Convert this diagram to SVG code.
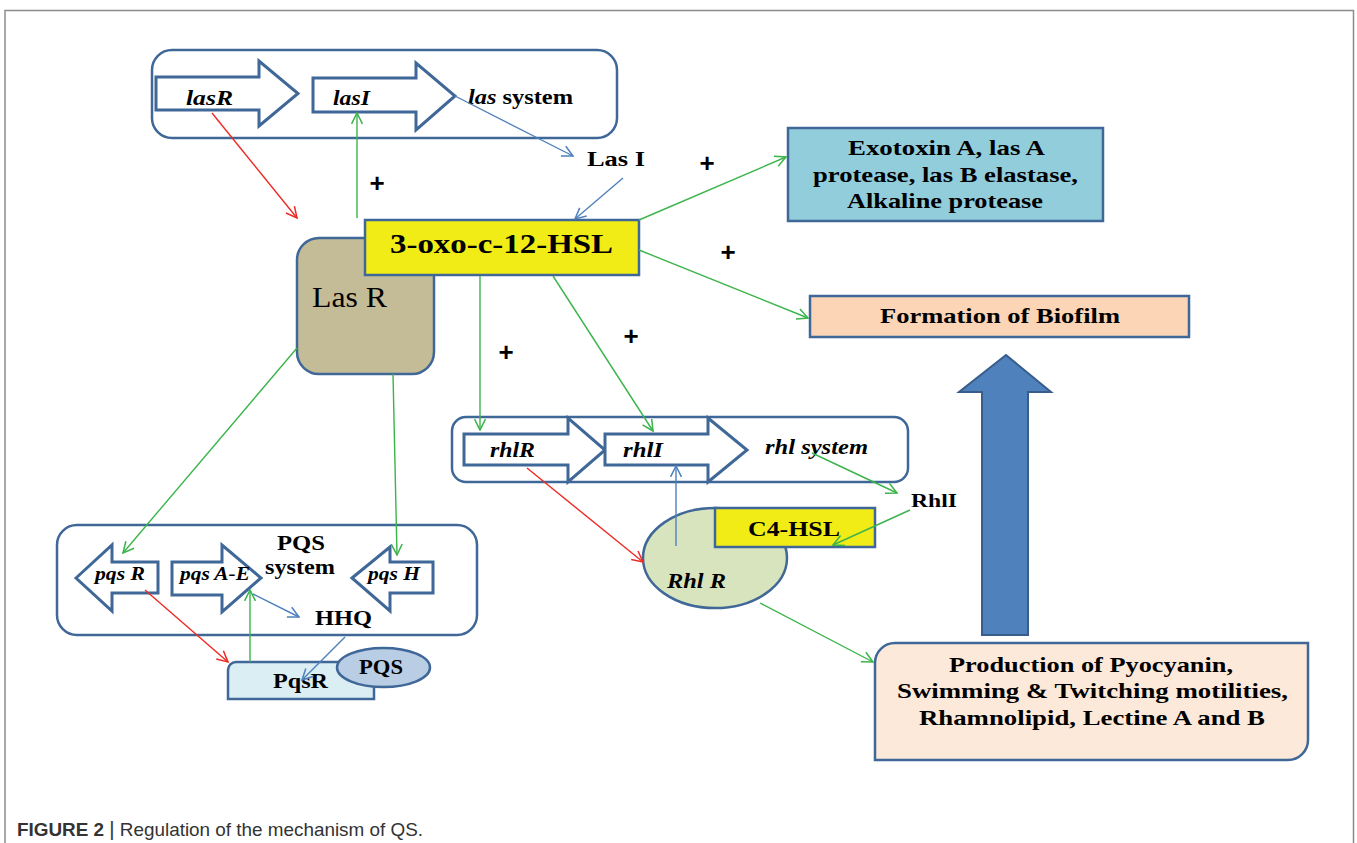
<svg xmlns="http://www.w3.org/2000/svg" width="1357" height="843" viewBox="0 0 1357 843">
<defs>
<marker id="mg" viewBox="0 0 12 12" refX="11" refY="6" markerWidth="13" markerHeight="13" markerUnits="userSpaceOnUse" orient="auto"><path d="M1,1 L11,6 L1,11" fill="none" stroke="#3cb44b" stroke-width="1.4"/></marker>
<marker id="mr" viewBox="0 0 12 12" refX="11" refY="6" markerWidth="13" markerHeight="13" markerUnits="userSpaceOnUse" orient="auto"><path d="M1,1 L11,6 L1,11" fill="none" stroke="#ee2a24" stroke-width="1.4"/></marker>
<marker id="mb" viewBox="0 0 12 12" refX="11" refY="6" markerWidth="13" markerHeight="13" markerUnits="userSpaceOnUse" orient="auto"><path d="M1,1 L11,6 L1,11" fill="none" stroke="#4f81bd" stroke-width="1.4"/></marker>
</defs>
<style>
.frame{fill:none;stroke:#8c8c8c;stroke-width:1.5}
.sys{fill:#fff;stroke:#3f6797;stroke-width:2.5}
.blk{fill:#fff;stroke:#3f6797;stroke-width:3;stroke-linejoin:miter}
.t{font-family:"Liberation Serif","Times New Roman",serif;font-weight:bold;fill:#000}
.i{font-style:italic}
.g{stroke:#3cb44b;stroke-width:1.4;fill:none;marker-end:url(#mg)}
.r{stroke:#ee2a24;stroke-width:1.4;fill:none;marker-end:url(#mr)}
.b{stroke:#4f81bd;stroke-width:1.4;fill:none;marker-end:url(#mb)}
.plus{font-family:"Liberation Sans",Arial,sans-serif;font-weight:bold;font-size:26px;fill:#000;text-anchor:middle}
.cap{font-family:"Liberation Sans",Arial,sans-serif;font-size:18.5px;fill:#333}
</style>
<rect width="1357" height="843" fill="#fff"/>
<path class="frame" d="M5,843 V10.5 H1353.5 V843"/>

<g id="las-system">
<rect class="sys" x="152" y="50" width="465" height="88" rx="20"/>
<polygon class="blk" points="156,77 259,77 259,61 298,93.5 259,126 259,110 156,110"/>
<polygon class="blk" points="313,78 416,78 416,63 455,96 416,130 416,112 313,112"/>
<text class="t i" x="186" y="105" font-size="22" textLength="47" lengthAdjust="spacingAndGlyphs">lasR</text>
<text class="t i" x="333" y="105" font-size="22" textLength="37" lengthAdjust="spacingAndGlyphs">lasI</text>
<text class="t" x="468" y="104" font-size="22" textLength="105" lengthAdjust="spacingAndGlyphs"><tspan font-style="italic">las</tspan> system</text>
</g>

<g id="lasI-label"><text class="t" x="587" y="166" font-size="20" textLength="58" lengthAdjust="spacingAndGlyphs">Las I</text></g>

<g id="lasR-protein">
<rect x="297" y="238" width="137" height="136" rx="22" fill="#c4bc96" stroke="#3f6797" stroke-width="2.5"/>
<text x="312" y="307" font-family="Liberation Serif,'Times New Roman',serif" font-size="29" textLength="75" lengthAdjust="spacingAndGlyphs" fill="#000">Las R</text>
</g>

<g id="oxo-hsl">
<rect x="365" y="220" width="274" height="55" fill="#f2ec16" stroke="#3f6797" stroke-width="2.5"/>
<text class="t" x="390" y="253" font-size="27" textLength="223" lengthAdjust="spacingAndGlyphs">3-oxo-c-12-HSL</text>
</g>

<g id="exotoxin">
<rect x="788" y="128" width="315" height="93" fill="#92cddc" stroke="#3f6797" stroke-width="2.5"/>
<text class="t" x="848" y="155" font-size="22" textLength="197" lengthAdjust="spacingAndGlyphs">Exotoxin A, las A</text>
<text class="t" x="813" y="182" font-size="22" textLength="265" lengthAdjust="spacingAndGlyphs">protease,  las B elastase,</text>
<text class="t" x="847" y="208" font-size="22" textLength="196" lengthAdjust="spacingAndGlyphs">Alkaline  protease</text>
</g>

<g id="biofilm">
<rect x="810" y="296" width="379" height="41" fill="#fbd5b5" stroke="#3f6797" stroke-width="2.5"/>
<text class="t" x="880" y="323" font-size="22" textLength="240" lengthAdjust="spacingAndGlyphs">Formation  of Biofilm</text>
</g>

<g id="big-arrow">
<polygon points="982,635 1028,635 1028,392 1051,392 1006,355 959,392 982,392" fill="#4f81bd" stroke="#385d8a" stroke-width="2"/>
</g>

<g id="rhl-system">
<rect class="sys" x="452" y="417" width="456" height="65" rx="14"/>
<polygon class="blk" points="464,434 568,434 568,418 605,450 568,482 568,465 464,465"/>
<polygon class="blk" points="605,434 708,434 708,418 747,450 708,482 708,465 605,465"/>
<text class="t i" x="490" y="457" font-size="21" textLength="45" lengthAdjust="spacingAndGlyphs">rhlR</text>
<text class="t i" x="623" y="457" font-size="21" textLength="40" lengthAdjust="spacingAndGlyphs">rhlI</text>
<text class="t i" x="765" y="454" font-size="21" textLength="103" lengthAdjust="spacingAndGlyphs">rhl system</text>
</g>

<g id="rhlI-label"><text class="t" x="911" y="507" font-size="19" textLength="46" lengthAdjust="spacingAndGlyphs">RhlI</text></g>

<g id="rhlR-protein">
<ellipse cx="715" cy="558" rx="72" ry="50" fill="#d7e4bd" stroke="#3f6797" stroke-width="2.5"/>
<text class="t i" x="667" y="588" font-size="21" textLength="59" lengthAdjust="spacingAndGlyphs">Rhl R</text>
</g>

<g id="c4-hsl">
<rect x="715" y="508" width="160" height="39" fill="#f2ec16" stroke="#3f6797" stroke-width="2.5"/>
<text class="t" x="748" y="536" font-size="21" textLength="92" lengthAdjust="spacingAndGlyphs">C4-HSL</text>
</g>

<g id="production">
<path d="M895,643 H1308 V740 A20,20 0 0 1 1288,760 H875 V663 A20,20 0 0 1 895,643 Z" fill="#fde9d9" stroke="#3f6797" stroke-width="2.5"/>
<text class="t" x="949" y="672" font-size="22" textLength="284" lengthAdjust="spacingAndGlyphs">Production  of Pyocyanin,</text>
<text class="t" x="897" y="698" font-size="22" textLength="391" lengthAdjust="spacingAndGlyphs">Swimming  &amp; Twitching  motilities,</text>
<text class="t" x="919" y="725" font-size="22" textLength="346" lengthAdjust="spacingAndGlyphs">Rhamnolipid,  Lectine A and  B</text>
</g>

<g id="pqs-system">
<rect class="sys" x="57" y="525" width="420" height="110" rx="20"/>
<polygon class="blk" points="76,578 112,545 112,562 158,562 158,593 112,593 112,611"/>
<polygon class="blk" points="172,562 222,562 222,545 261,578 222,612 222,595 172,595"/>
<polygon class="blk" points="352,578 390,547 390,562 433,562 433,593 390,593 390,611"/>
<text class="t i" x="95" y="580" font-size="19" textLength="50" lengthAdjust="spacingAndGlyphs">pqs R</text>
<text class="t i" x="180" y="580" font-size="19" textLength="70" lengthAdjust="spacingAndGlyphs">pqs A-E</text>
<text class="t i" x="368" y="580" font-size="19" textLength="52" lengthAdjust="spacingAndGlyphs">pqs H</text>
<text class="t" x="277" y="550" font-size="21" textLength="48" lengthAdjust="spacingAndGlyphs">PQS</text>
<text class="t" x="265" y="574" font-size="21" textLength="70" lengthAdjust="spacingAndGlyphs">system</text>
<text class="t" x="315" y="625" font-size="21" textLength="57" lengthAdjust="spacingAndGlyphs">HHQ</text>
</g>

<g id="pqsR-protein">
<path d="M236,662 H374 V699 H228 V670 A8,8 0 0 1 236,662 Z" fill="#dbeef4" stroke="#3f6797" stroke-width="2.5"/>
<text class="t" x="273" y="688" font-size="21" textLength="55" lengthAdjust="spacingAndGlyphs">PqsR</text>
</g>

<g id="pqs-signal">
<ellipse cx="383.5" cy="667.5" rx="46.5" ry="19.5" fill="#b9cde5" stroke="#3f6797" stroke-width="2.5"/>
<text class="t" x="359" y="674" font-size="20" textLength="44" lengthAdjust="spacingAndGlyphs">PQS</text>
</g>

<g id="connectors">
<line class="r" x1="212" y1="113" x2="297" y2="218"/>
<line class="g" x1="357" y1="218" x2="357" y2="113"/>
<line class="b" x1="455" y1="96" x2="573" y2="156"/>
<line class="b" x1="623" y1="178" x2="575" y2="219"/>
<line class="g" x1="639" y1="220" x2="786" y2="157"/>
<line class="g" x1="639" y1="250" x2="808" y2="318"/>
<line class="g" x1="480" y1="276" x2="480" y2="430"/>
<line class="g" x1="553" y1="276" x2="653" y2="431"/>
<line class="g" x1="812" y1="453" x2="897" y2="493"/>
<line class="g" x1="910" y1="510" x2="833" y2="545"/>
<line class="b" x1="676" y1="546" x2="676" y2="466"/>
<line class="r" x1="527" y1="468" x2="643" y2="562"/>
<line class="g" x1="760" y1="603" x2="873" y2="662"/>
<line class="g" x1="297" y1="348" x2="123" y2="553"/>
<line class="g" x1="393" y1="374" x2="397" y2="555"/>
<line class="r" x1="145" y1="590" x2="228" y2="662"/>
<line class="g" x1="250" y1="662" x2="250" y2="590"/>
<line class="b" x1="253" y1="594" x2="299" y2="617"/>
<line class="b" x1="345" y1="637" x2="302" y2="680"/>
</g>

<g id="plus-signs">
<text class="plus" x="377" y="192">+</text>
<text class="plus" x="707" y="172">+</text>
<text class="plus" x="728" y="261">+</text>
<text class="plus" x="631" y="345">+</text>
<text class="plus" x="506" y="361">+</text>
</g>

<g id="caption">
<text class="cap" x="17" y="836" textLength="406" lengthAdjust="spacingAndGlyphs"><tspan font-weight="bold">FIGURE 2</tspan> <tspan font-size="20">|</tspan> Regulation of the mechanism of QS.</text>
</g>
</svg>
